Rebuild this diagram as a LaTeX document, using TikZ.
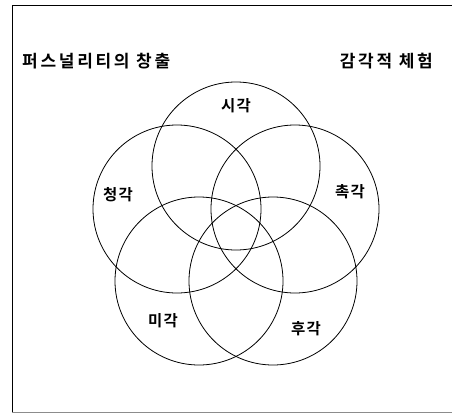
\documentclass[tikz,border=0pt]{standalone}
\usepackage{fontspec}
\newfontfamily\kr[LetterSpace=16]{Noto Sans CJK KR Bold}
\newfontfamily\krl[LetterSpace=8]{Noto Sans CJK KR Bold}
\begin{document}
\begin{tikzpicture}[x=1pt,y=-1pt,
  ring/.style={draw=black,line width=0.8pt,circle,minimum size=168pt,inner sep=0pt},
  title/.style={font=\kr\fontsize{17pt}{19pt}\selectfont,inner sep=0pt},
  sense/.style={font=\krl\fontsize{15.5pt}{17pt}\selectfont,inner sep=0pt}]
\useasboundingbox (0,0) rectangle (452,415);
% frame
\coordinate (tl) at (12,5);
\coordinate (tr) at (452,5);
\coordinate (bl) at (12,412);
\coordinate (br) at (452,412);
\draw[line width=0.9pt] (tr) -- (tl) -- (bl);
\draw[line width=0.8pt,black!45] (bl) -- (br);
% circles
\node[ring] (see) at (236,166) {};
\node[ring] (hear) at (177,209) {};
\node[ring] (touch) at (295,209) {};
\node[ring] (taste) at (199,281) {};
\node[ring] (smell) at (273,281) {};
% titles
\node[title,anchor=west] (t1) at (22,61) {퍼스널리티의 창출};
\node[title,anchor=east] (t2) at (433,61) {감각적 체험};
% labels
\node[sense] (l1) at (236,106) {시각};
\node[sense] (l2) at (118,195) {청각};
\node[sense] (l3) at (350,192) {촉각};
\node[sense] (l4) at (163,321) {미각};
\node[sense] (l5) at (306,329) {후각};
\end{tikzpicture}
\end{document}
